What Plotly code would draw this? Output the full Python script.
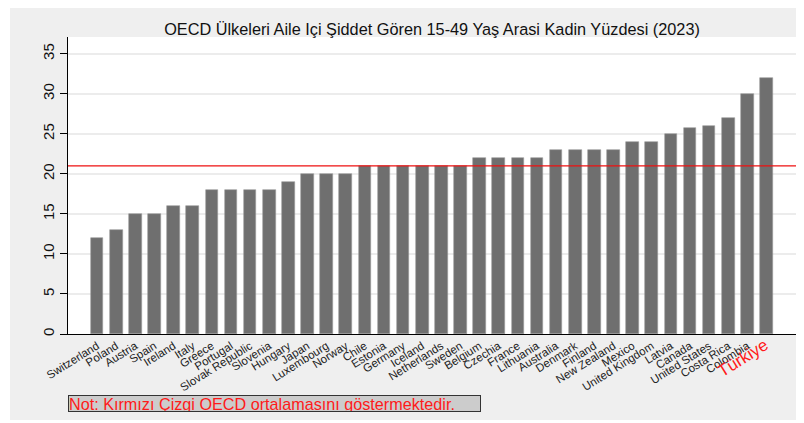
import plotly.graph_objects as go

countries = ['Switzerland', 'Poland', 'Austria', 'Spain', 'Ireland', 'Italy', 'Greece',
             'Portugal', 'Slovak Republic', 'Slovenia', 'Hungary', 'Japan', 'Luxembourg',
             'Norway', 'Chile', 'Estonia', 'Germany', 'Iceland', 'Netherlands', 'Sweden',
             'Belgium', 'Czechia', 'France', 'Lithuania', 'Australia', 'Denmark', 'Finland',
             'New Zealand', 'Mexico', 'United Kingdom', 'Latvia', 'Canada', 'United States',
             'Costa Rica', 'Colombia', 'Türkiye']
values = [12, 13, 15, 15, 16, 16, 18, 18, 18, 18, 19, 20, 20, 20, 21, 21, 21, 21, 21, 21,
          22, 22, 22, 22, 23, 23, 23, 23, 24, 24, 25, 25.7, 26, 27, 30, 32]
oecd_mean = 21
y_ticks = [0, 5, 10, 15, 20, 25, 30, 35]

title = 'OECD Ülkeleri Aile Içi Şiddet Gören 15-49 Yaş Arasi Kadin Yüzdesi (2023)'
note = 'Not: Kırmızı Çizgi OECD ortalamasını göstermektedir.'

tick_text = []
for c in countries:
    if c == 'Türkiye':
        tick_text.append('<span style="color:#ff1a1a;font-size:17px">' + c + '</span>')
    else:
        tick_text.append(c)

x = list(range(len(countries)))

fig = go.Figure()
fig.add_trace(go.Bar(
    x=x, y=values,
    width=0.66,
    marker=dict(color='#6f6f6f', line=dict(color='#9a9a9a', width=0.6)),
    hoverinfo='x+y',
))

# OECD average line
fig.add_shape(type='line', xref='paper', yref='y', x0=0, x1=1,
              y0=oecd_mean, y1=oecd_mean,
              line=dict(color='#ee1111', width=1.3), layer='above')

# white strips outside the grey graph region (page body adds 8px on top/left)
frame = [(-0.2, -0.0797, -0.5, 1.5), (1.00275, 1.2, -0.5, 1.5),
         (-0.2, 1.2, -0.5, -0.2896)]
for x0, x1, y0, y1 in frame:
    fig.add_shape(type='rect', xref='paper', yref='paper', x0=x0, x1=x1, y0=y0, y1=y1,
                  fillcolor='white', line=dict(width=0), layer='below')

fig.add_annotation(
    text=note, xref='paper', yref='paper', x=0, y=-0.2066,
    xanchor='left', yanchor='top', showarrow=False,
    font=dict(family='Liberation Sans, Arial', size=16.2, color='#ff1a1a'),
    bgcolor='#cccccc', bordercolor='#333333', borderwidth=1, borderpad=0,
    width=411, height=15, align='left',
)

fig.update_layout(
    width=796, height=415,
    margin=dict(l=60, r=8, t=29, b=89, autoexpand=False),
    paper_bgcolor='#efefef', plot_bgcolor='white',
    font=dict(family='Liberation Sans, Arial', color='#222222'),
    title=dict(text=title, x=0.5, xref='paper', y=0.949, yanchor='middle',
               font=dict(size=16.3, color='#111111'), automargin=False),
    showlegend=False,
    bargap=0,
)
fig.update_xaxes(
    range=[-1.52, 36.54], tickmode='array', tickvals=x, ticktext=tick_text,
    tickangle=-32, tickfont=dict(size=11.5, color='#222222'),
    showgrid=False, showline=True, linecolor='black', linewidth=1,
    ticks='', zeroline=False, automargin=False,
)
fig.update_yaxes(
    range=[0, 37.1], tickmode='array', tickvals=y_ticks,
    tickangle=-90, tickfont=dict(size=15, color='#111111'),
    showgrid=True, gridcolor='#ececec', gridwidth=1.5,
    showline=True, linecolor='black', linewidth=1,
    ticks='outside', ticklen=7, tickcolor='black', zeroline=False, automargin=False,
)

fig.write_html("out.html")
